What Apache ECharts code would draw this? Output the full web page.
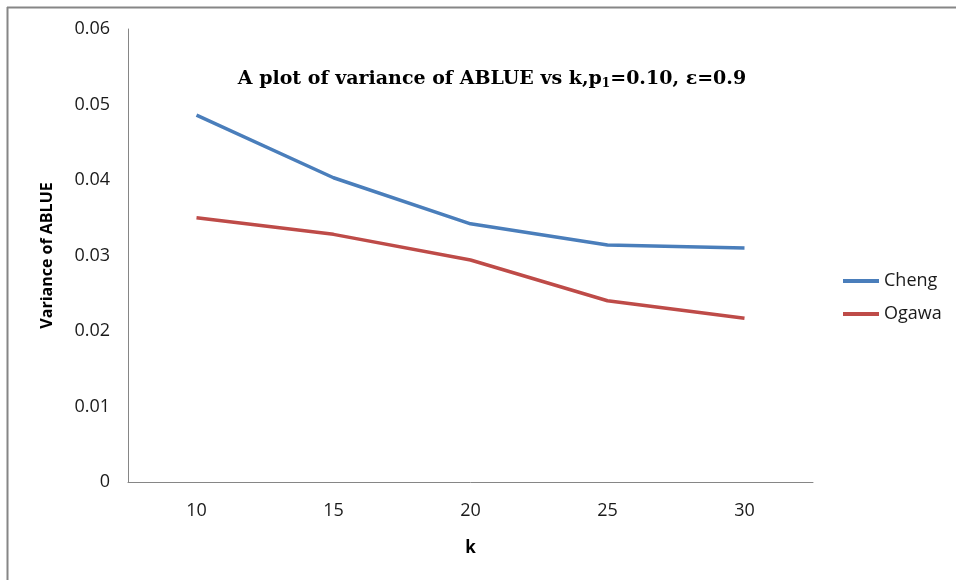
<!DOCTYPE html>
<html>
<head>
<meta charset="utf-8">
<script src="https://cdn.jsdelivr.net/npm/echarts@6/dist/echarts.min.js"></script>
<style>
  html, body { margin: 0; padding: 0; background: #fff; }
  #chart { width: 956px; height: 580px; }
</style>
</head>
<body>
<div id="chart"></div>
<script>
// k values on the category axis
const kValues = ['10', '15', '20', '25', '30'];
// Variance of ABLUE for each method
const chengVar = [0.0486, 0.0403, 0.0342, 0.0314, 0.0310];
const ogawaVar = [0.0350, 0.0328, 0.0294, 0.0240, 0.0217];
const seriesNames = ['Cheng', 'Ogawa'];

const labelFont = '"Open Sans", "Noto Sans", sans-serif';
const axisGray = '#868686';

const chart = echarts.init(document.getElementById('chart'));
chart.setOption({
  backgroundColor: '#ffffff',
  animation: false,
  title: {
    text: '{t|A plot of variance of ABLUE vs k,p}{s|1}{t|=0.10, ε=0.9}',
    left: 487,
    top: 64,
    textAlign: 'center',
    textStyle: {
      rich: {
        t: { fontFamily: '"DejaVu Serif", serif', fontWeight: 'bold', fontSize: 19, color: '#000' },
        s: { fontFamily: '"DejaVu Serif", serif', fontWeight: 'bold', fontSize: 12, color: '#000', verticalAlign: 'bottom', padding: [9, 0, 0, 0] }
      }
    }
  },
  graphic: [
    { type: 'line', shape: { x1: 7.5, y1: 7, x2: 7.5, y2: 580 }, style: { stroke: axisGray, lineWidth: 2 } },
    { type: 'line', shape: { x1: 7, y1: 7.5, x2: 956, y2: 7.5 }, style: { stroke: axisGray, lineWidth: 2 } }
  ],
  legend: {
    orient: 'vertical',
    left: 838,
    top: 267,
    itemWidth: 36,
    itemHeight: 4,
    itemGap: 15,
    icon: 'rect',
    data: seriesNames,
    textStyle: { fontFamily: labelFont, fontSize: 18, color: '#1a1a1a', padding: [0, 0, 0, 0] }
  },
  grid: { left: 128, top: 29, right: 143, bottom: 98, containLabel: false },
  xAxis: {
    type: 'category',
    data: kValues,
    boundaryGap: true,
    name: 'k',
    nameLocation: 'middle',
    nameGap: 58,
    nameTextStyle: { fontFamily: labelFont, fontWeight: 'bold', fontSize: 17, color: '#000' },
    axisLine: { lineStyle: { color: axisGray, width: 1 } },
    axisTick: { show: false },
    axisLabel: { fontFamily: labelFont, fontSize: 18, color: '#1a1a1a', margin: 20 }
  },
  yAxis: {
    type: 'value',
    min: 0,
    max: 0.06,
    interval: 0.01,
    name: 'Variance of ABLUE',
    nameLocation: 'middle',
    nameGap: 73,
    nameTextStyle: { fontFamily: labelFont, fontWeight: 'bold', fontSize: 16, color: '#000' },
    axisLine: { show: true, lineStyle: { color: axisGray, width: 1 } },
    axisTick: { show: false },
    splitLine: { show: false },
    axisLabel: {
      fontFamily: labelFont, fontSize: 18, color: '#1a1a1a', margin: 18,
      formatter: v => (v === 0 ? '0' : v.toFixed(2))
    }
  },
  series: [
    {
      name: seriesNames[0], type: 'line', data: chengVar, symbol: 'none',
      lineStyle: { color: '#4a7ebb', width: 3.5 }, itemStyle: { color: '#4a7ebb' }
    },
    {
      name: seriesNames[1], type: 'line', data: ogawaVar, symbol: 'none',
      lineStyle: { color: '#be4b48', width: 3.5 }, itemStyle: { color: '#be4b48' }
    }
  ]
});
</script>
</body>
</html>
